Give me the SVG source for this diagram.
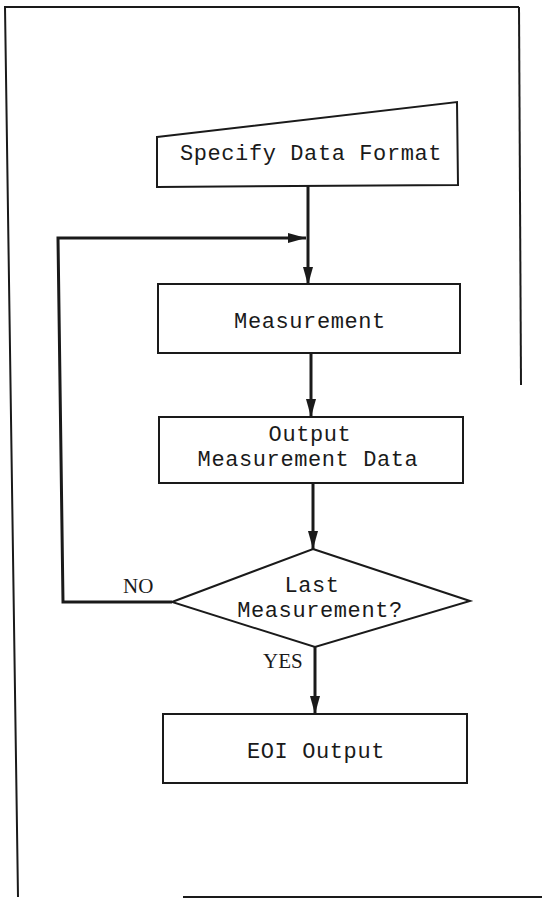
<svg xmlns="http://www.w3.org/2000/svg" width="542" height="900" viewBox="0 0 542 900">
<style>
.box{fill:#fff;stroke:#1a1a1a;stroke-width:2}
.frame{fill:none;stroke:#1a1a1a;stroke-width:2}
.conn{fill:none;stroke:#1a1a1a;stroke-width:3}
.t{font-family:"Liberation Mono","Courier New",monospace;font-size:22px;letter-spacing:0.6px;fill:#1a1a1a;text-anchor:middle}
.lbl{font-family:"Liberation Serif","Times New Roman",serif;font-size:21px;fill:#1a1a1a}
</style>
<defs>
<marker id="arr" viewBox="0 0 18 10" refX="18" refY="5" markerWidth="18" markerHeight="10" markerUnits="userSpaceOnUse" orient="auto">
<path d="M0,0 L18,5 L0,10 z" fill="#1a1a1a"/>
</marker>
</defs>
<rect width="542" height="900" fill="#fff"/>
<g id="frame">
<path class="frame" d="M519,7 L5,7 L18,897"/>
<path class="frame" d="M519,7 L521,385"/>
<path class="frame" d="M183,897 L542,897"/>
</g>
<g id="connectors">
<path class="conn" d="M308,186 L308,285" marker-end="url(#arr)"/>
<path class="conn" d="M172,602 L63,602 L58,238 L306,238" marker-end="url(#arr)"/>
<path class="conn" d="M311,353 L311,417" marker-end="url(#arr)"/>
<path class="conn" d="M313,483 L313,549" marker-end="url(#arr)"/>
<path class="conn" d="M315,647 L315,714" marker-end="url(#arr)"/>
</g>
<g id="specify">
<path class="box" d="M157,137 L457,102 L458,185 L157,187 Z"/>
<text class="t" x="311" y="160">Specify Data Format</text>
</g>
<g id="measurement">
<rect class="box" x="158" y="284" width="302" height="69"/>
<text class="t" x="310" y="328">Measurement</text>
</g>
<g id="output">
<rect class="box" x="159" y="417" width="304" height="66"/>
<text class="t" x="310" y="441">Output</text>
<text class="t" x="308" y="466">Measurement Data</text>
</g>
<g id="decision">
<path class="box" d="M313,549 L470,601 L315,647 L172,602 Z"/>
<text class="t" x="312" y="592">Last</text>
<text class="t" x="320" y="617">Measurement?</text>
</g>
<g id="eoi">
<rect class="box" x="163" y="714" width="304" height="69"/>
<text class="t" x="316" y="758">EOI Output</text>
</g>
<g id="labels">
<text class="lbl" x="123" y="593">NO</text>
<text class="lbl" x="263" y="668">YES</text>
</g>
</svg>
